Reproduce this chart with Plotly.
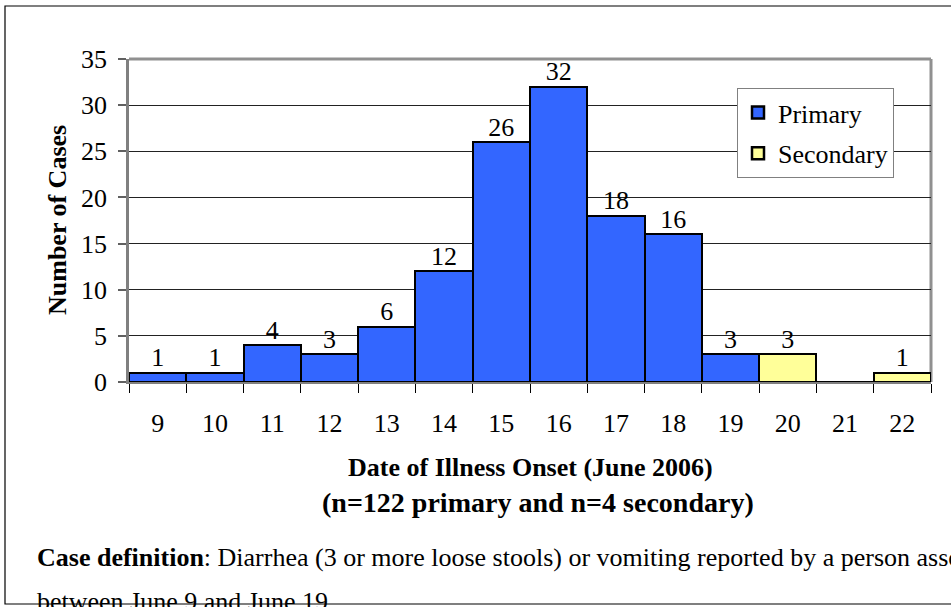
import plotly.graph_objects as go

days = [9, 10, 11, 12, 13, 14, 15, 16, 17, 18, 19, 20, 21, 22]
primary = [1, 1, 4, 3, 6, 12, 26, 32, 18, 16, 3, 0, 0, 0]
secondary = [0, 0, 0, 0, 0, 0, 0, 0, 0, 0, 0, 3, 0, 1]
y_ticks = [0, 5, 10, 15, 20, 25, 30, 35]

FONT = "Liberation Serif, Times New Roman, serif"
FS = 26

fig = go.Figure()
fig.add_trace(go.Bar(x=days, y=primary, name="Primary", width=1, legendgroup="p",
                     marker=dict(color="#3366FF", line=dict(color="black", width=2.5))))
fig.add_trace(go.Bar(x=days, y=secondary, name="Secondary", width=1, legendgroup="s",
                     marker=dict(color="#FFFF99", line=dict(color="black", width=2.5))))

# value labels
lab_x, lab_y, lab_t = [], [], []
for d, p, s in zip(days, primary, secondary):
    tot = p + s
    if tot > 0:
        lab_x.append(d)
        lab_y.append(tot)
        lab_t.append(str(p if p > 0 else s))
fig.add_trace(go.Scatter(x=lab_x, y=lab_y, text=lab_t, mode="text",
                         textposition="top center", showlegend=False,
                         textfont=dict(family=FONT, size=FS, color="black"),
                         hoverinfo="skip", cliponaxis=False))

bounds = [d - 0.5 for d in days] + [days[-1] + 0.5]

# plot area px: left 129, right 931, top 59, bottom 382
L, R, T, B = 129, 931, 59, 382
W, H = R - L, B - T
def px(x): return (x - L) / W
def py(y): return (B - y) / H

fig.update_layout(
    width=951, height=607,
    margin=dict(l=L, r=951 - R, t=T, b=607 - B),
    paper_bgcolor="white", plot_bgcolor="white",
    barmode="stack", bargap=0,
    font=dict(family=FONT, size=FS, color="black"),
    showlegend=True,
    legend=dict(x=px(737), y=py(88), xanchor="left", yanchor="top",
                bgcolor="white", bordercolor="#808080", borderwidth=1,
                font=dict(family=FONT, size=FS), tracegroupgap=4,
                traceorder="grouped"),
    xaxis=dict(range=[8.5, 22.5], tickvals=days, ticktext=[str(d) for d in days],
               ticks="", showgrid=False, zeroline=False,
               showline=True, linecolor="#808080", linewidth=2,
               ticklabelstandoff=17, tickfont=dict(size=FS),
               minor=dict(tickvals=bounds, ticks="outside", ticklen=9,
                          tickcolor="black", tickwidth=1, showgrid=False)),
    yaxis=dict(range=[0, 35], tickvals=y_ticks, ticks="outside", ticklen=8,
               tickcolor="#606060", tickwidth=1.5,
               showgrid=True, gridcolor="#222222", gridwidth=1,
               zeroline=False, showline=True, linecolor="#808080", linewidth=2.5,
               tickfont=dict(size=FS), ticklabelstandoff=6),
)

# top and right gray borders of plot area
fig.add_shape(type="line", xref="paper", yref="paper", x0=0, x1=1, y0=1, y1=1,
              line=dict(color="#909090", width=3), layer="above")
fig.add_shape(type="line", xref="paper", yref="paper", x0=1, x1=1, y0=0, y1=1,
              line=dict(color="#909090", width=3), layer="below")

# outer page frame
fig.add_shape(type="rect", xref="paper", yref="paper",
              x0=px(5), x1=px(960), y0=py(604), y1=py(6),
              line=dict(color="black", width=1.2), fillcolor="rgba(0,0,0,0)")

fig.add_annotation(xref="paper", yref="paper", x=px(57), y=py(220),
                   xanchor="center", yanchor="middle",
                   text="<b>Number of Cases</b>", textangle=-90, showarrow=False,
                   font=dict(family=FONT, size=FS))
fig.add_annotation(xref="paper", yref="paper", x=px(530), y=py(467),
                   xanchor="center", yanchor="middle",
                   text="<b>Date of Illness Onset (June 2006)</b>", showarrow=False,
                   font=dict(family=FONT, size=FS))
fig.add_annotation(xref="paper", yref="paper", x=px(538), y=py(503),
                   xanchor="center", yanchor="middle",
                   text="<b>(n=122 primary and n=4 secondary)</b>", showarrow=False,
                   font=dict(family=FONT, size=28))
fig.add_annotation(xref="paper", yref="paper", x=px(35), y=py(557),
                   xanchor="left", yanchor="middle",
                   text="<b>Case definition</b>: Diarrhea (3 or more loose stools) or vomiting reported by a person associated",
                   showarrow=False, font=dict(family=FONT, size=FS))
fig.add_annotation(xref="paper", yref="paper", x=px(35), y=py(601),
                   xanchor="left", yanchor="middle",
                   text="between June 9 and June 19", showarrow=False,
                   font=dict(family=FONT, size=FS))

fig.write_html("out.html", config={"displayModeBar": False},
               post_script="document.body.style.margin='0';")
